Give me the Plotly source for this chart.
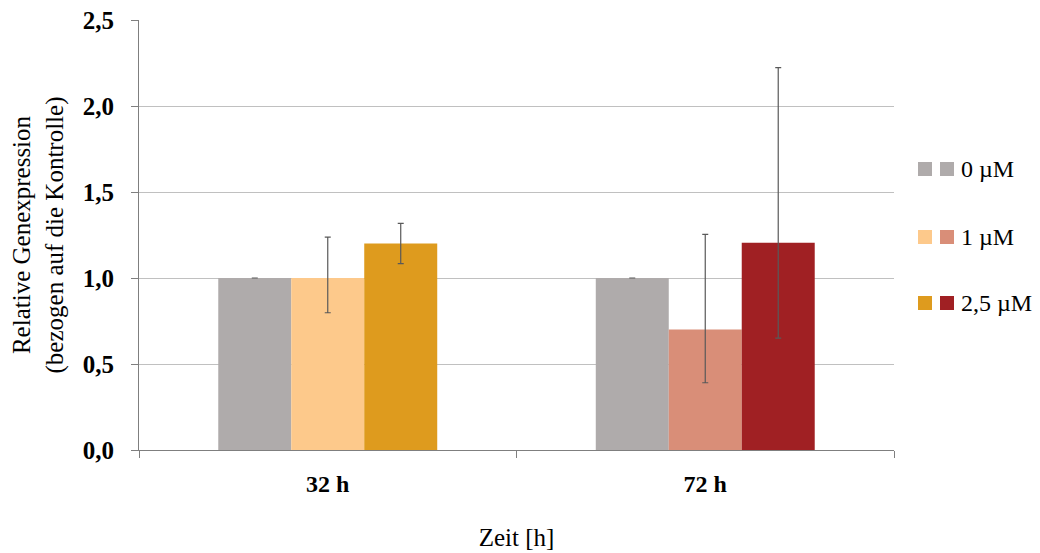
import plotly.graph_objects as go

categories = ["32 h", "72 h"]
series_names = ["0 µM", "1 µM", "2,5 µM"]
values_0 = [1.0, 1.0]
values_1 = [1.0, 0.70]
values_25 = [1.2, 1.205]
err_plus_0 = [0.0, 0.0]
err_minus_0 = [0.0, 0.0]
err_plus_1 = [0.238, 0.554]
err_minus_1 = [0.202, 0.309]
err_plus_25 = [0.118, 1.018]
err_minus_25 = [0.117, 0.554]
colors_0 = ["#AFABAB", "#AFABAB"]
colors_1 = ["#FDC98B", "#D98E78"]
colors_25 = ["#DE9B1E", "#A02023"]

series = [
    (series_names[0], values_0, err_plus_0, err_minus_0, colors_0),
    (series_names[1], values_1, err_plus_1, err_minus_1, colors_1),
    (series_names[2], values_25, err_plus_25, err_minus_25, colors_25),
]

FONT = "Liberation Serif, Times New Roman, serif"

fig = go.Figure()
for name, vals, ep, em, cols in series:
    fig.add_trace(go.Bar(
        x=categories, y=vals, name=name,
        marker=dict(color=cols, line=dict(width=0)),
        error_y=dict(type="data", symmetric=False, array=ep, arrayminus=em,
                     color="#595959", thickness=1.2, width=3),
        showlegend=False,
    ))

# manual legend: two colour squares per entry (one per time point)
# page coords of plot area: x 139..894, y 20..450
leg_y = [169, 237, 303]
shapes = []
annotations = []
for i, (name, vals, ep, em, cols) in enumerate(series):
    yc = leg_y[i]
    for j, c in enumerate(cols):
        x0 = 918 + j * 22
        shapes.append(dict(type="rect", xref="paper", yref="paper",
                           x0=(x0 - 139) / 755, x1=(x0 + 14 - 139) / 755,
                           y0=(450 - (yc + 7)) / 430, y1=(450 - (yc - 7)) / 430,
                           fillcolor=c, line=dict(width=0), layer="above"))
    annotations.append(dict(text=name, xref="paper", yref="paper",
                            x=(959 - 139) / 755, y=(450 - yc) / 430,
                            xanchor="left", yanchor="middle", showarrow=False,
                            font=dict(family=FONT, size=24, color="#000000")))

fig.update_layout(
    width=1040, height=553,
    margin=dict(l=131, r=154, t=12, b=111, autoexpand=False),
    paper_bgcolor="white", plot_bgcolor="white",
    barmode="group", bargap=0.42, bargroupgap=0,
    separators=", ",
    font=dict(family=FONT, color="#000000"),
    shapes=shapes, annotations=annotations,
    xaxis=dict(
        title=dict(text="Zeit [h]", font=dict(family=FONT, size=25), standoff=32),
        tickfont=dict(family=FONT, size=24, weight="bold"),
        showline=True, linecolor="#7F7F7F", linewidth=1,
        ticks="outside", tickson="boundaries", ticklen=7, tickcolor="#7F7F7F",
        ticklabelstandoff=12, automargin=False,
        showgrid=False,
    ),
    yaxis=dict(
        title=dict(text="Relative Genexpression<br>(bezogen auf die Kontrolle)",
                   font=dict(family=FONT, size=25), standoff=15),
        range=[0, 2.5], dtick=0.5, tickformat=".1f",
        tickfont=dict(family=FONT, size=25, weight="bold"),
        showline=True, linecolor="#7F7F7F", linewidth=1,
        ticks="outside", ticklen=7, tickcolor="#7F7F7F",
        ticklabelstandoff=12, ticklabeloverflow="allow", automargin=False,
        showgrid=True, gridcolor="#C0C0C0", gridwidth=1,
        zeroline=False,
    ),
)

fig.write_html("out.html")
